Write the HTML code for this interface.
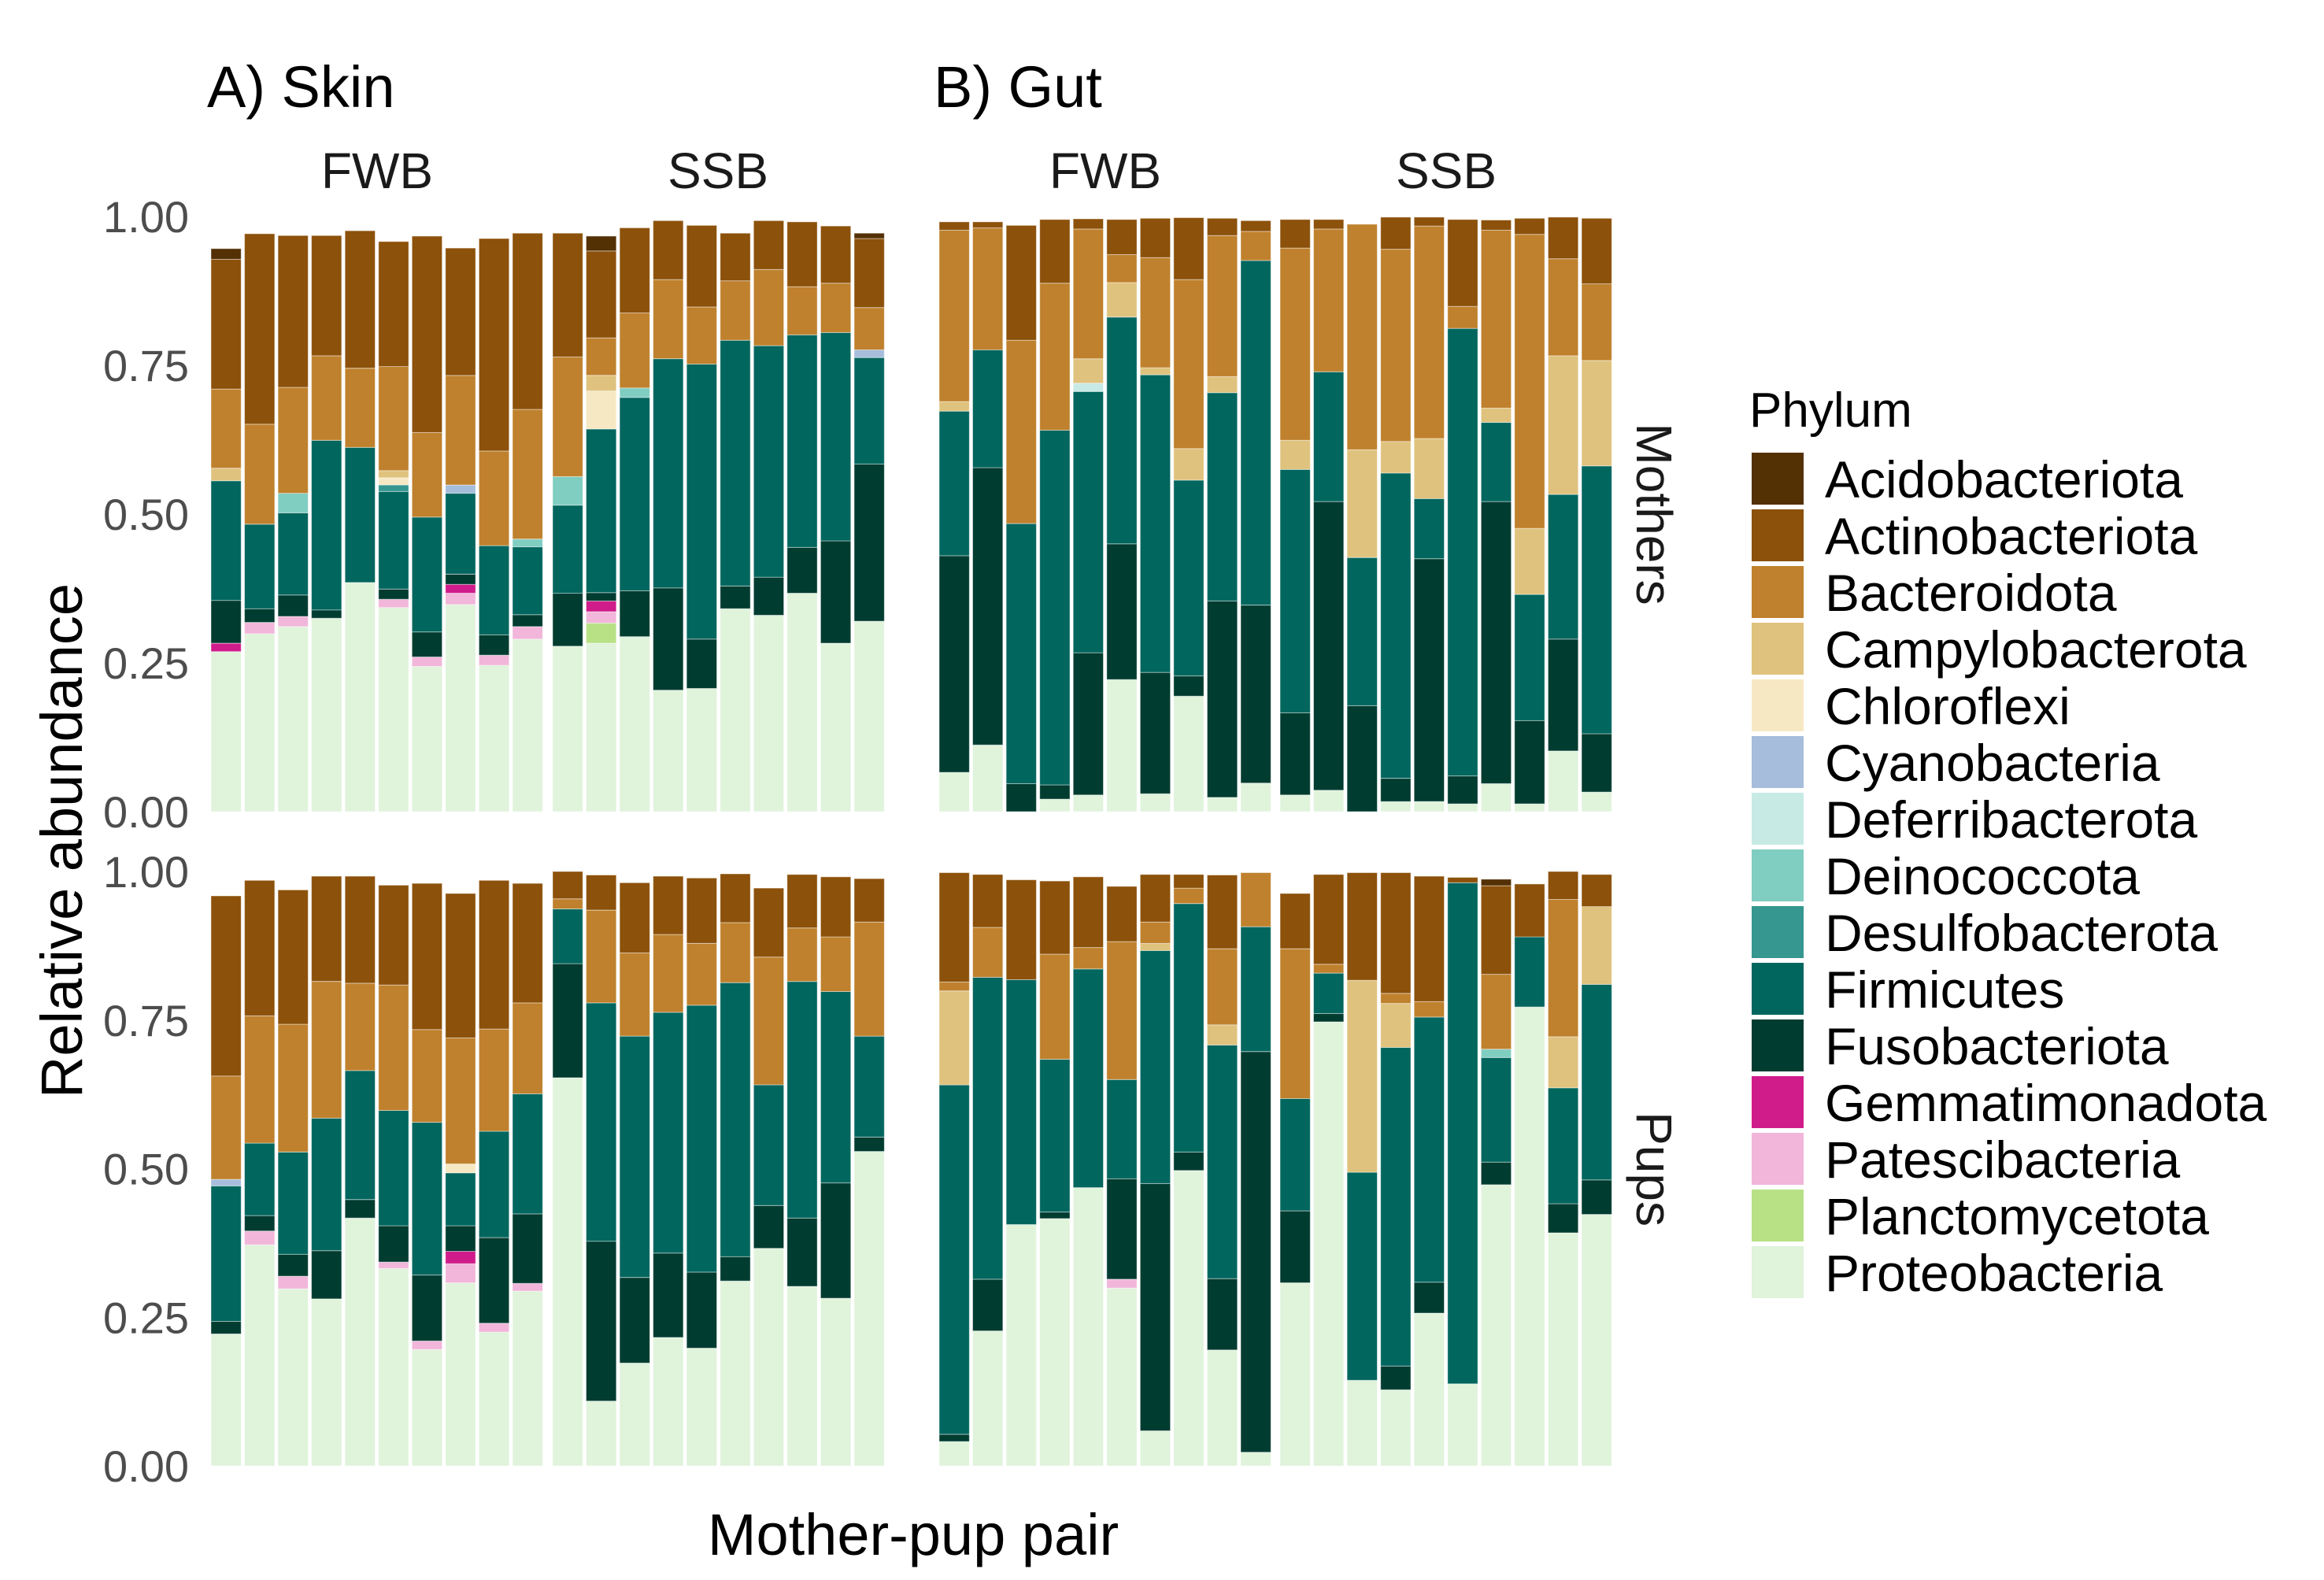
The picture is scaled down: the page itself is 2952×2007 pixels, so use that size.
<!DOCTYPE html>
<html><head><meta charset="utf-8"><style>
html,body{margin:0;padding:0;background:#fff;}
svg{display:block;font-family:"Liberation Sans",sans-serif;}
</style></head><body>
<svg id="chart" width="2952" height="2007" viewBox="0 0 2952 2007" xmlns="http://www.w3.org/2000/svg">
<rect x="0" y="0" width="2952" height="2007" fill="#fff"/>
<g id="marks"></g>
<g id="axes"></g>
<text x="263" y="136" font-size="74" fill="#000">A) Skin</text>
<text x="1186" y="136" font-size="74" fill="#000">B) Gut</text>
<text x="479" y="239" font-size="64" fill="#1a1a1a" text-anchor="middle">FWB</text>
<text x="912" y="239" font-size="64" fill="#1a1a1a" text-anchor="middle">SSB</text>
<text x="1404" y="239" font-size="64" fill="#1a1a1a" text-anchor="middle">FWB</text>
<text x="1837" y="239" font-size="64" fill="#1a1a1a" text-anchor="middle">SSB</text>
<text transform="translate(2079,653) rotate(90)" font-size="64" fill="#1a1a1a" text-anchor="middle">Mothers</text>
<text transform="translate(2079,1485) rotate(90)" font-size="64" fill="#1a1a1a" text-anchor="middle">Pups</text>
<text transform="translate(104,1068) rotate(-90)" font-size="74" fill="#000" text-anchor="middle">Relative abundance</text>
<text x="1160" y="1975" font-size="74" fill="#000" text-anchor="middle">Mother-pup pair</text>
<text x="2222" y="542" font-size="62" fill="#000">Phylum</text>
<g id="legend"></g>
</svg>
<script>
// Phylum names (stack order: first listed = top of stack)
const phyla = ["Acidobacteriota","Actinobacteriota","Bacteroidota","Campylobacterota","Chloroflexi","Cyanobacteria","Deferribacterota","Deinococcota","Desulfobacterota","Firmicutes","Fusobacteriota","Gemmatimonadota","Patescibacteria","Planctomycetota","Proteobacteria"];
const codes = ["Ac","At","Ba","Ca","Ch","Cy","Df","De","Ds","Fi","Fu","Ge","Pa","Pl","Pr"];
const colors = ["#543005","#8c510a","#bf812d","#dfc27d","#f6e8c3","#a6bddb","#c7eae5","#80cdc1","#35978f","#01665e","#003c30","#d01c8b","#f1b6da","#b8e186","#e0f3db"];
const yTicks = [0, 0.25, 0.5, 0.75, 1];
const yTickLabels = ["0.00","0.25","0.50","0.75","1.00"];
// Cumulative stack tops from bottom, per bar (bottom->top order)
const skinMothersFWB = [
"Pr .269 Ge .283 Fu .355 Fi .556 Ca .577 Ba .710 At .928 Ac .946",
"Pr .299 Pa .318 Fu .341 Fi .483 Ba .651 At .971",
"Pr .311 Pa .328 Fu .364 Fi .502 De .535 Ba .713 At .968",
"Pr .325 Fu .339 Fi .624 Ba .766 At .968",
"Pr .385 Fi .612 Ba .745 At .976",
"Pr .343 Pa .357 Fu .374 Fi .538 Ds .549 Ch .561 Ca .573 Ba .748 At .958",
"Pr .244 Pa .260 Fu .302 Fi .495 Ba .637 At .967",
"Pr .348 Pa .367 Ge .382 Fu .399 Fi .535 Cy .549 Ba .733 At .947",
"Pr .246 Pa .263 Fu .297 Fi .447 Ba .606 At .963",
"Pr .290 Pa .311 Fu .331 Fi .445 De .458 Ba .676 At .972"];
const skinMothersSSB = [
"Pr .278 Fu .367 Fi .515 De .563 Ba .764 At .972",
"Pr .283 Pl .317 Pa .336 Ge .354 Fu .368 Fi .643 Ch .707 Ca .733 Ba .796 At .942 Ac .967",
"Pr .294 Fu .371 Fi .696 De .712 Ba .838 At .981",
"Pr .204 Fu .376 Fi .761 Ba .894 At .993",
"Pr .207 Fu .290 Fi .752 Ba .848 At .985",
"Pr .341 Fu .379 Fi .792 Ba .892 At .972",
"Pr .330 Fu .394 Fi .783 Ba .911 At .993",
"Pr .367 Fu .444 Fi .801 Ba .882 At .991",
"Pr .283 Fu .455 Fi .805 Ba .888 At .984",
"Pr .320 Fu .584 Fi .763 Cy .776 Ba .847 At .963 Ac .972"];
const gutMothersFWB = [
"Pr .066 Fu .430 Fi .673 Ca .689 Ba .977 At .991",
"Pr .112 Fu .578 Fi .776 Ba .981 At .991",
"Pr 0 Fu .047 Fi .484 Ba .792 At .985",
"Pr .021 Fu .045 Fi .641 Ba .888 At .995",
"Pr .028 Fu .267 Fi .706 Df .720 Ca .761 Ba .979 At .996",
"Pr .222 Fu .450 Fi .831 Ca .889 Ba .936 At .995",
"Pr .030 Fu .234 Fi .734 Ca .746 Ba .931 At .997",
"Pr .194 Fu .228 Fi .557 Ca .610 Ba .894 At .998",
"Pr .024 Fu .354 Fi .704 Ca .731 Ba .968 At .997",
"Pr .048 Fu .347 Fi .926 Ba .975 At .993"];
const gutMothersSSB = [
"Pr .028 Fu .166 Fi .575 Ca .624 Ba .947 At .995",
"Pr .036 Fu .521 Fi .739 Ba .979 At .995",
"Pr 0 Fu .178 Fi .427 Ca .608 Ba .987",
"Pr .017 Fu .056 Fi .569 Ca .622 Ba .945 At .999",
"Pr .017 Fu .425 Fi .526 Ca .627 Ba .984 At .999",
"Pr .013 Fu .060 Fi .812 Ba .849 At .995",
"Pr .047 Fu .521 Fi .654 Ca .678 Ba .977 At .994",
"Pr .013 Fu .153 Fi .365 Ca .476 Ba .970 At .997",
"Pr .102 Fu .290 Fi .533 Ca .766 Ba .929 At .999",
"Pr .033 Fu .131 Fi .581 Ca .758 Ba .887 At .997"];
const skinPupsFWB = [
"Pr .222 Fu .243 Fi .471 Cy .482 Ba .656 At .959",
"Pr .372 Pa .395 Fu .421 Fi .543 Ba .757 At .985",
"Pr .298 Pa .319 Fu .356 Fi .528 Ba .743 At .969",
"Pr .281 Fu .362 Fi .585 Ba .815 At .992",
"Pr .417 Fu .448 Fi .665 Ba .812 At .992",
"Pr .332 Pa .343 Fu .404 Fi .598 Ba .809 At .977",
"Pr .196 Pa .210 Fu .321 Fi .578 Ba .734 At .980",
"Pr .308 Pa .340 Ge .361 Fu .404 Fi .493 Ch .508 Ba .720 At .963",
"Pr .225 Pa .240 Fu .384 Fi .563 Ba .735 At .985",
"Pr .294 Pa .307 Fu .424 Fi .626 Ba .779 At .980"];
const skinPupsSSB = [
"Pr .653 Fu .845 Fi .937 Ba .954 At 1.0",
"Pr .109 Fu .378 Fi .779 Ba .935 At .994",
"Pr .173 Fu .317 Fi .723 Ba .863 At .981",
"Pr .216 Fu .358 Fi .763 Ba .894 At .992",
"Pr .198 Fu .326 Fi .775 Ba .879 At .989",
"Pr .311 Fu .352 Fi .813 Ba .914 At .996",
"Pr .366 Fu .438 Fi .641 Ba .856 At .972",
"Pr .302 Fu .417 Fi .815 Ba .905 At .995",
"Pr .282 Fu .476 Fi .798 Ba .890 At .991",
"Pr .529 Fu .553 Fi .723 Ba .915 At .988"];
const gutPupsFWB = [
"Pr .041 Fu .053 Fi .641 Ca .799 Ba .814 At .998",
"Pr .227 Fu .314 Fi .822 Ba .906 At .995",
"Pr .406 Fi .818 At .986",
"Pr .416 Fu .427 Fi .684 Ba .861 At .984",
"Pr .468 Fi .836 Ba .872 At .991",
"Pr .299 Pa .314 Fu .483 Fi .650 Ba .882 At .975",
"Pr .059 Fu .475 Fi .867 Ca .879 Ba .915 At .995",
"Pr .497 Fu .528 Fi .946 Ba .972 At .995",
"Pr .195 Fu .315 Fi .708 Ca .742 Ba .870 At .994",
"Pr .023 Fu .697 Fi .907 Ba .998"];
const gutPupsSSB = [
"Pr .308 Fu .429 Fi .618 Ba .870 At .963",
"Pr .747 Fu .761 Fi .829 Ba .844 At .995",
"Pr .144 Fi .494 Ca .817 At .998",
"Pr .128 Fu .168 Fi .704 Ca .778 Ba .795 At .998",
"Pr .257 Fu .309 Fi .755 Ba .781 At .992",
"Pr .138 Fi .981 At .990",
"Pr .473 Fu .511 Fi .687 De .701 Ba .827 At .976 Ac .987",
"Pr .772 Fi .890 At .979",
"Pr .392 Fu .441 Fi .636 Ca .722 Ba .953 At 1.0",
"Pr .423 Fu .481 Fi .810 Ca .941 At .995"];

const NS = "http://www.w3.org/2000/svg";
const marks = document.getElementById('marks');
const axes = document.getElementById('axes');
const legend = document.getElementById('legend');
const pitch = 42.55, barW = 38.3;
const rows = [{y0:1031, h:756, name:'mothers'}, {y0:1862, h:755, name:'pups'}];
function yScale(row, v){ return row.y0 - v*row.h; }
function xScale(stripX, i){ return stripX + i*pitch; }
function parseBar(s){ const t=s.trim().split(/\s+/); const out=[]; for(let k=0;k<t.length;k+=2) out.push([t[k], parseFloat(t[k+1])]); return out; }
const panels = [
 {data:skinMothersFWB, x:268, row:0, key:'skin-mothers-fwb'},
 {data:skinMothersSSB, x:702, row:0, key:'skin-mothers-ssb'},
 {data:gutMothersFWB, x:1193, row:0, key:'gut-mothers-fwb'},
 {data:gutMothersSSB, x:1626, row:0, key:'gut-mothers-ssb'},
 {data:skinPupsFWB, x:268, row:1, key:'skin-pups-fwb'},
 {data:skinPupsSSB, x:702, row:1, key:'skin-pups-ssb'},
 {data:gutPupsFWB, x:1193, row:1, key:'gut-pups-fwb'},
 {data:gutPupsSSB, x:1626, row:1, key:'gut-pups-ssb'}];
panels.forEach(p=>{
  const row = rows[p.row];
  p.data.forEach((s,i)=>{
    const segs = parseBar(s); let prev=0;
    const bx = xScale(p.x, i);
    segs.forEach(([c,top])=>{
      const idx = codes.indexOf(c);
      if(top>prev){
        const r = document.createElementNS(NS,'rect');
        const y1 = yScale(row, top), y2 = yScale(row, prev);
        r.setAttribute('x', bx.toFixed(1));
        r.setAttribute('y', y1.toFixed(1));
        r.setAttribute('width', barW);
        r.setAttribute('height', (y2-y1).toFixed(1));
        r.setAttribute('fill', colors[idx]);
        r.setAttribute('stroke', 'rgba(255,255,255,0.45)');
        r.setAttribute('stroke-width', '1');
        
        
        marks.appendChild(r);
      }
      prev = top;
    });
  });
});
rows.forEach(row=>{
  yTicks.forEach((v,k)=>{
    const t = document.createElementNS(NS,'text');
    t.setAttribute('x', 240);
    t.setAttribute('y', (yScale(row,v)+20).toFixed(1));
    t.setAttribute('font-size', 56);
    t.setAttribute('fill', '#4d4d4d');
    t.setAttribute('text-anchor', 'end');
    
    
    t.textContent = yTickLabels[k];
    axes.appendChild(t);
  });
});
phyla.forEach((name,i)=>{
  const y = 575 + i*72;
  const r = document.createElementNS(NS,'rect');
  r.setAttribute('x', 2225); r.setAttribute('y', y);
  r.setAttribute('width', 66); r.setAttribute('height', 66);
  r.setAttribute('fill', colors[i]);
  
  
  legend.appendChild(r);
  const t = document.createElementNS(NS,'text');
  t.setAttribute('x', 2318); t.setAttribute('y', y+57);
  t.setAttribute('font-size', 66); t.setAttribute('fill', '#000');
  
  
  t.textContent = name;
  legend.appendChild(t);
});
</script>
</body></html>
